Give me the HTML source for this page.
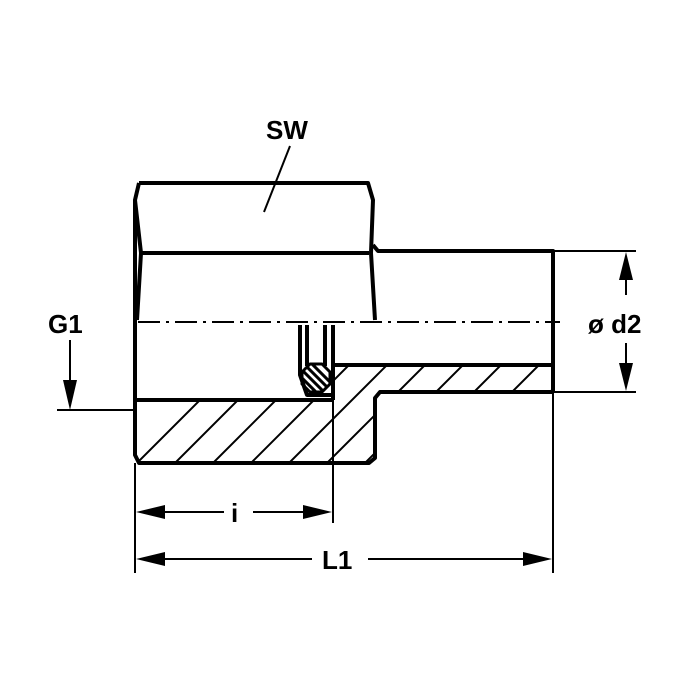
<!DOCTYPE html>
<html><head><style>body{margin:0;background:#fff}svg{display:block}text{font-family:"Liberation Sans",Arial,sans-serif;font-size:26px;font-weight:bold;fill:#000}</style></head>
<body>
<svg width="700" height="700" viewBox="0 0 700 700" xmlns="http://www.w3.org/2000/svg">
<defs>
<clipPath id="sec"><polygon points="135,400 333,400 333,365 553,365 553,392 380,392 375,398 375,458 369,463 139,463 135,455"/></clipPath>
<clipPath id="ring"><polygon points="310,364 322,364 330,372 330,384 322,392 310,392 302,384 302,372"/></clipPath>
</defs>
<g clip-path="url(#sec)" stroke="#000" stroke-width="2">
<line x1="100" y1="500" x2="260" y2="340"/>
<line x1="138" y1="500" x2="298" y2="340"/>
<line x1="176" y1="500" x2="336" y2="340"/>
<line x1="214" y1="500" x2="374" y2="340"/>
<line x1="252" y1="500" x2="412" y2="340"/>
<line x1="290" y1="500" x2="450" y2="340"/>
<line x1="328" y1="500" x2="488" y2="340"/>
<line x1="366" y1="500" x2="526" y2="340"/>
<line x1="404" y1="500" x2="564" y2="340"/>
<line x1="442" y1="500" x2="602" y2="340"/>
<line x1="480" y1="500" x2="640" y2="340"/>
<line x1="518" y1="500" x2="678" y2="340"/>
</g>
<g clip-path="url(#ring)" stroke="#000" stroke-width="3">
<line x1="288" y1="356" x2="328" y2="396"/><line x1="296" y1="356" x2="336" y2="396"/><line x1="304" y1="356" x2="344" y2="396"/><line x1="280" y1="356" x2="320" y2="396"/><line x1="272" y1="356" x2="312" y2="396"/>
</g>
<g fill="none" stroke="#000" stroke-width="4" stroke-linejoin="round">
<polyline points="139,183 368,183 373,200 371,253 375,320"/>
<polyline points="139,183 135,200 135,455 139,463 369,463 375,458 375,398 380,392 553,392"/>
<polyline points="135,200 141,253 137,320"/>
<line x1="141" y1="253" x2="369" y2="253"/>
<polyline points="373,245 378,251 553,251 553,392"/>
<line x1="135" y1="400" x2="333" y2="400"/>
<polyline points="333,325 333,400"/>
<line x1="333" y1="365" x2="553" y2="365"/>
<polyline points="300,325 300,375 307,395 333,395"/>
<line x1="307" y1="325" x2="307" y2="366"/>
<line x1="325" y1="325" x2="325" y2="366"/>
<polygon points="310,364 322,364 330,372 330,384 322,392 310,392 302,384 302,372" stroke-width="3"/>
</g>
<g stroke="#000" stroke-width="2" fill="none">
<line x1="138" y1="322" x2="560" y2="322" stroke-dasharray="22,6,3,6"/>
<line x1="553" y1="251" x2="636" y2="251"/>
<line x1="553" y1="392" x2="636" y2="392"/>
<line x1="57" y1="410" x2="135" y2="410"/>
<line x1="70" y1="340" x2="70" y2="395"/>
<line x1="135" y1="463" x2="135" y2="573"/>
<line x1="333" y1="400" x2="333" y2="523"/>
<line x1="553" y1="392" x2="553" y2="573"/>
<line x1="150" y1="512" x2="224" y2="512"/>
<line x1="253" y1="512" x2="320" y2="512"/>
<line x1="150" y1="559" x2="312" y2="559"/>
<line x1="368" y1="559" x2="540" y2="559"/>
<line x1="626" y1="262" x2="626" y2="295"/>
<line x1="626" y1="343" x2="626" y2="380"/>
<line x1="290" y1="146" x2="264" y2="212"/>
</g>
<g fill="#000">
<polygon points="70,410 63,380 77,380"/>
<polygon points="626,252 619,280 633,280"/>
<polygon points="626,391 619,363 633,363"/>
<polygon points="136,512 165,505 165,519"/>
<polygon points="332,512 303,505 303,519"/>
<polygon points="136,559 165,552 165,566"/>
<polygon points="552,559 523,552 523,566"/>
</g>
<text x="266" y="139">SW</text>
<text x="48" y="333">G1</text>
<text x="588" y="333">ø d2</text>
<text x="231" y="522">i</text>
<text x="322" y="569">L1</text>
</svg>
</body></html>
